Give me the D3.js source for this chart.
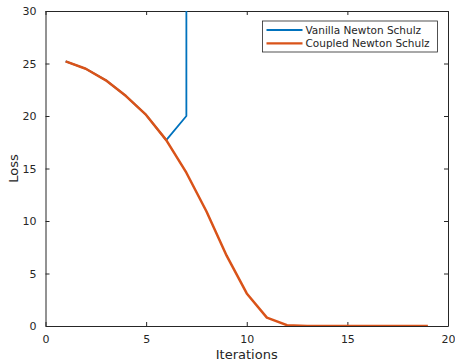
<!DOCTYPE html>
<html>
<head>
<meta charset="utf-8">
<script src="https://cdn.jsdelivr.net/npm/d3@7"></script>
<style>
  body { margin: 0; background: #fff; }
  text { font-family: "DejaVu Sans", sans-serif; fill: #262626; }
</style>
</head>
<body>
<div id="chart"></div>
<script>
const iterations = [1, 2, 3, 4, 5, 6, 7, 8, 9, 10, 11, 12, 13, 14, 15, 16, 17, 18, 19];
const coupledLoss = [25.2, 24.5, 23.4, 21.9, 20.1, 17.7, 14.6, 10.9, 6.7, 3.1, 0.8, 0.08, 0.01, 0, 0, 0, 0, 0, 0];
const vanillaIter = [1, 2, 3, 4, 5, 6, 7, 8];
const vanillaLoss = [25.2, 24.5, 23.4, 21.9, 20.1, 17.7, 20.0, 100000];
const seriesNames = ['Vanilla Newton Schulz', 'Coupled Newton Schulz'];
const xTicks = [0, 5, 10, 15, 20];
const yTicks = [0, 5, 10, 15, 20, 25, 30];

const width = 455;
const height = 362;
const margin = {top: 11, right: 7, bottom: 36, left: 45.5};
const innerW = width - margin.left - margin.right;
const innerH = height - margin.top - margin.bottom;
const axisColor = '#262626';
const colors = ['#0072BD', '#D95319'];
const widths = [1.8, 2.5];

const svg = d3.select('#chart').append('svg')
  .attr('width', width)
  .attr('height', height);

const g = svg.append('g')
  .attr('transform', `translate(${margin.left}, ${margin.top})`);

/* Scales */
const xScale = d3.scaleLinear().domain([0, 20]).range([0, innerW]);
const yScale = d3.scaleLinear().domain([0, 30]).range([innerH, 0]);

svg.append('defs').append('clipPath')
  .attr('id', 'plot-clip')
  .append('rect')
  .attr('width', innerW)
  .attr('height', innerH);

/* Axes, MATLAB style box with inward ticks */
function styleAxis(sel) {
  sel.select('.domain').attr('stroke', axisColor);
  sel.selectAll('.tick line').attr('stroke', axisColor);
  sel.selectAll('.tick text').attr('fill', axisColor).style('font-size', '11px');
}

g.append('g')
  .attr('transform', `translate(0, ${innerH})`)
  .call(d3.axisBottom(xScale).tickValues(xTicks).tickSizeInner(-4).tickSizeOuter(0).tickPadding(9))
  .call(styleAxis);

g.append('g')
  .call(d3.axisTop(xScale).tickValues(xTicks).tickSizeInner(-4).tickSizeOuter(0).tickFormat(''))
  .call(styleAxis);

g.append('g')
  .call(d3.axisLeft(yScale).tickValues(yTicks).tickSizeInner(-4).tickSizeOuter(0).tickPadding(9))
  .call(styleAxis);

g.append('g')
  .attr('transform', `translate(${innerW}, 0)`)
  .call(d3.axisRight(yScale).tickValues(yTicks).tickSizeInner(-4).tickSizeOuter(0).tickFormat(''))
  .call(styleAxis);

g.selectAll('.domain').attr('stroke-width', 1);

/* Axis labels */
svg.append('text')
  .attr('x', margin.left + xScale(10))
  .attr('y', 359)
  .attr('text-anchor', 'middle')
  .style('font-size', '13px')
  .text('Iterations');

svg.append('text')
  .attr('transform', `translate(18, ${margin.top + yScale(15)}) rotate(-90)`)
  .attr('text-anchor', 'middle')
  .style('font-size', '13px')
  .text('Loss');

/* Lines */
const line = d3.line()
  .x(d => xScale(d[0]))
  .y(d => yScale(d[1]));

const lines = g.append('g').attr('clip-path', 'url(#plot-clip)');

const seriesData = [
  d3.zip(vanillaIter, vanillaLoss),
  d3.zip(iterations, coupledLoss)
];

lines.selectAll('path')
  .data(seriesData).enter()
  .append('path')
  .attr('d', d => line(d))
  .style('fill', 'none')
  .style('stroke', (d, i) => colors[i])
  .style('stroke-width', (d, i) => widths[i] + 'px')
  .style('stroke-linejoin', 'round');

/* Legend */
const legend = svg.append('g').attr('transform', 'translate(262.5, 21)');
legend.append('rect')
  .attr('width', 175)
  .attr('height', 31)
  .attr('fill', '#fff')
  .attr('stroke', axisColor)
  .attr('stroke-width', 0.8);

const items = legend.selectAll('.item')
  .data(seriesNames).enter()
  .append('g')
  .attr('class', 'item')
  .attr('transform', (d, i) => `translate(0, ${9 + i * 13.3})`);

items.append('line')
  .attr('x1', 4).attr('x2', 40)
  .attr('stroke', (d, i) => colors[i])
  .attr('stroke-width', 2.2);

items.append('text')
  .attr('x', 43)
  .attr('y', 3.8)
  .style('font-size', '10.5px')
  .text(d => d);
</script>
</body>
</html>
